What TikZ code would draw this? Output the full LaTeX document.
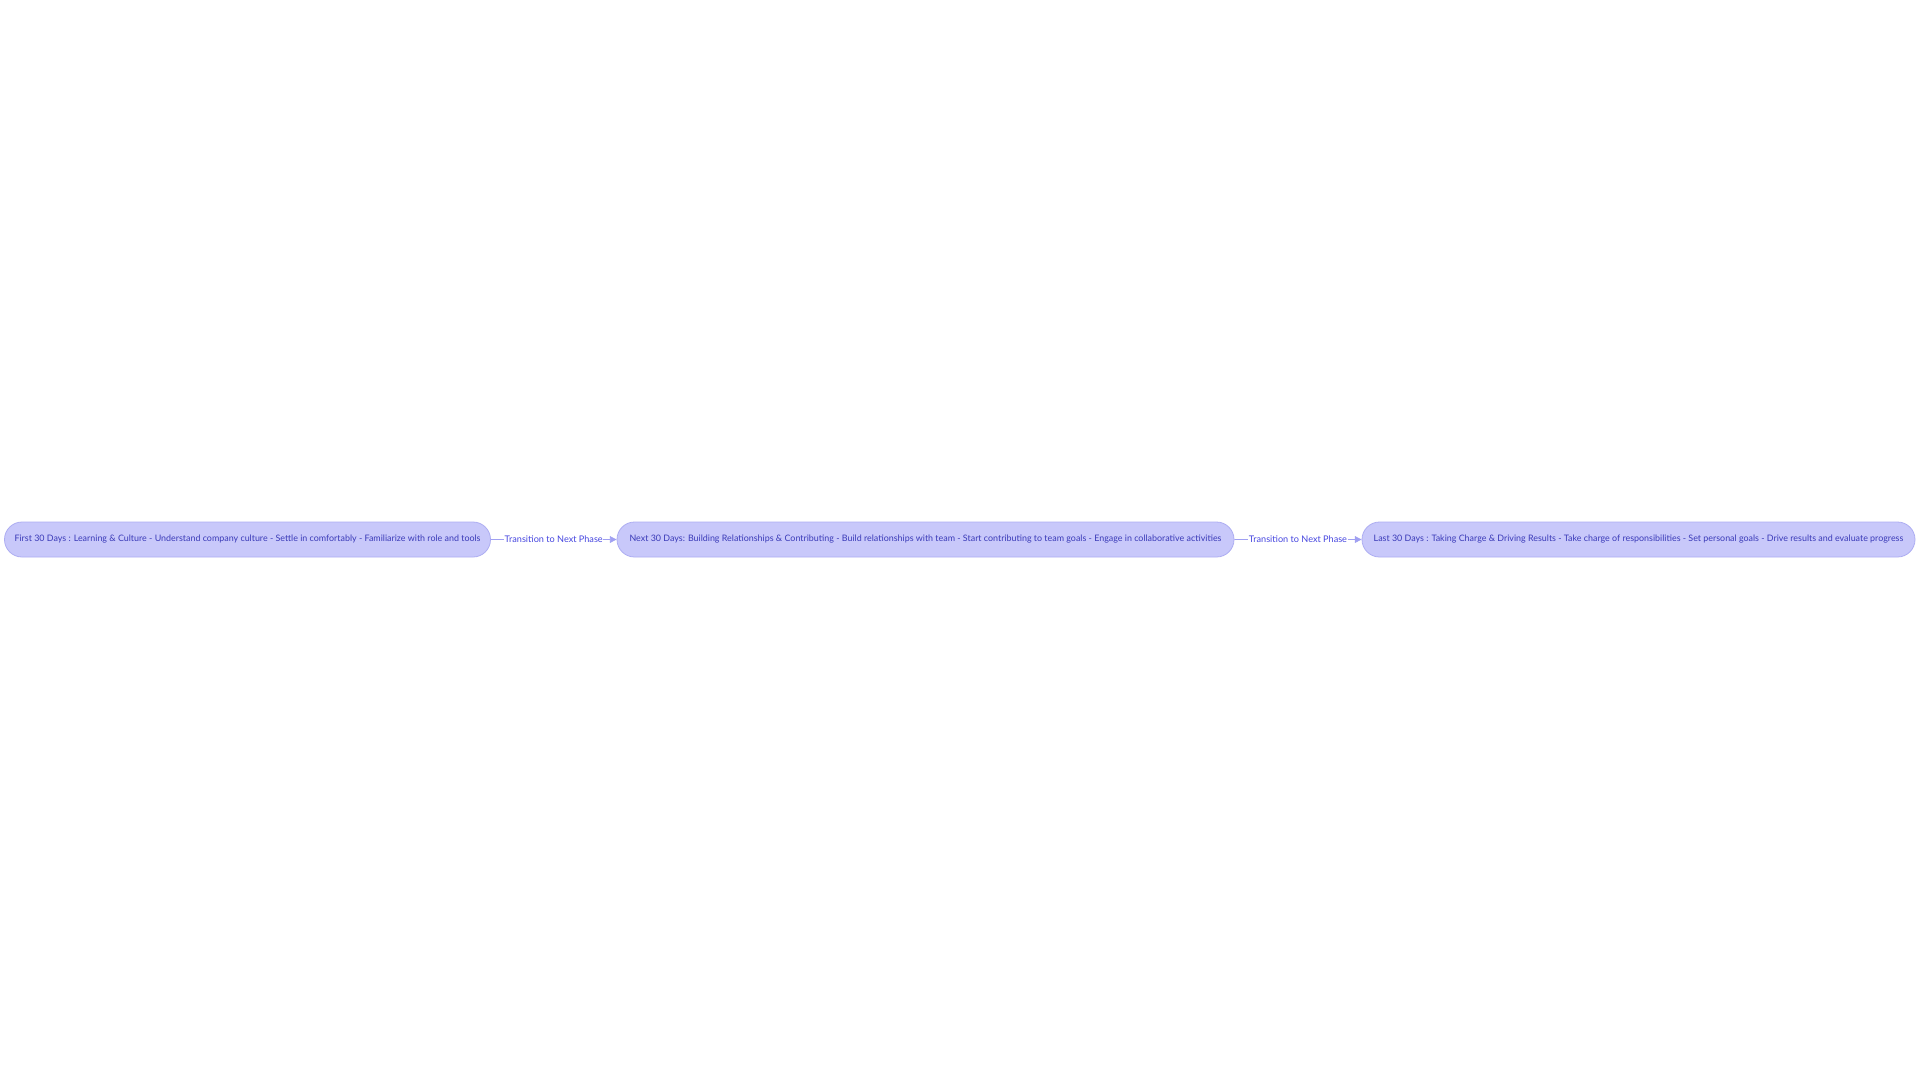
\documentclass[tikz,border=0pt]{standalone}
\usepackage{fontspec}
\setmainfont{Lato}
\usepackage{tikz}
\usetikzlibrary{shapes,arrows.meta,positioning}

\definecolor{phasefill}{HTML}{C8C8FA}
\definecolor{phaseline}{HTML}{ADADF2}
\definecolor{phasetext}{HTML}{3A3AB8}
\definecolor{edgeline}{HTML}{A0A0F2}
\definecolor{edgetext}{HTML}{4646E0}

\begin{document}
\begin{tikzpicture}[x=0.75pt,y=-0.75pt]

% Define phase box and transition style
\tikzstyle{phase} =[rounded rectangle, draw=phaseline, fill=phasefill,
                    line width=0.6pt, minimum height=26.25pt, inner sep=0pt,
                    text=phasetext, font=\fontsize{6.68}{8}\selectfont]
\tikzstyle{trans} =[draw=edgeline, line width=0.6pt,
                    -{Triangle[length=5pt,width=5pt]}]
\tikzstyle{translbl} =[fill=white, inner sep=0.4pt, text=edgetext,
                       font=\fontsize{6.85}{8}\selectfont]

\fill[white] (0,0) rectangle (1920,1083);
\useasboundingbox (0,0) rectangle (1920,1083);

\node[phase, minimum width=364.5pt] (first) at (247.5,539.5)
  {First 30 Days : Learning \& Culture - Understand company culture - Settle in comfortably - Familiarize with role and tools};
\node[phase, minimum width=462.75pt] (next) at (925.5,539.5)
  {Next 30 Days: Building Relationships \& Contributing - Build relationships with team - Start contributing to team goals - Engage in collaborative activities};
\node[phase, minimum width=414.75pt] (last) at (1638.5,539.5)
  {Last 30 Days : Taking Charge \& Driving Results - Take charge of responsibilities - Set personal goals - Drive results and evaluate progress};

\foreach \s/\t in {first/next, next/last}{
  \draw[trans] (\s) -- node[translbl] {Transition to Next Phase} (\t);
}

\end{tikzpicture}
\end{document}
